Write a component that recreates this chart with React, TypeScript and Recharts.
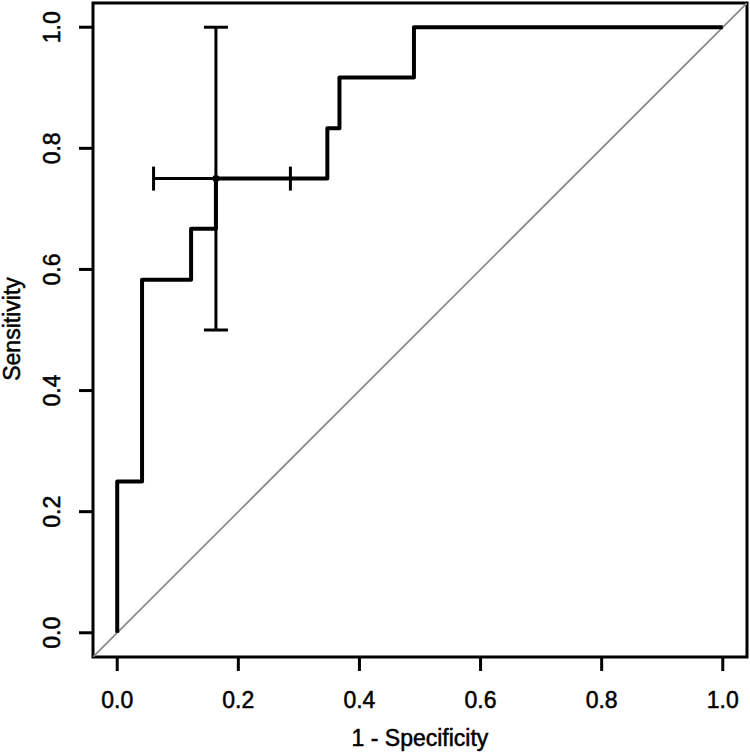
import { ComposedChart, Line, Scatter, ErrorBar, XAxis, YAxis, ReferenceArea } from "recharts"

// ROC curve steps (1 - specificity, sensitivity)
const rocFpr = [0, 0, 0.041, 0.122, 0.163, 0.347, 0.367, 0.49, 1]
const rocTpr = [0, 0.25, 0.583, 0.667, 0.75, 0.833, 0.917, 1, 1]

// confidence interval cross at the chosen threshold
const ciCenter = [0.163, 0.75]
const ciFpr = [0.06, 0.286]
const ciTpr = [0.5, 1.0]

const axisTicks = [0, 0.2, 0.4, 0.6, 0.8, 1]
const axisLimits = [-0.04, 1.04]

const rocData = rocFpr.map((x, i) => ({ x, y: rocTpr[i] }))
const diagData = axisLimits.map((v) => ({ x: v, y: v }))
const ciData = [
  {
    x: ciCenter[0],
    y: ciCenter[1],
    ex: [ciCenter[0] - ciFpr[0], ciFpr[1] - ciCenter[0]],
    ey: [ciCenter[1] - ciTpr[0], ciTpr[1] - ciCenter[1]],
  },
]

const font = "'Liberation Sans', Arial, sans-serif"
// slightly heavier text, the original looks a bit thicker than plain Arial
const textStyle = { fontFamily: font, fontSize: 23, fill: "#000", stroke: "#000", strokeWidth: 0.5 }

const XTick = ({ x, payload }: any) => (
  <text x={x} y={700} textAnchor="middle" dominantBaseline="central" {...textStyle}>
    {Number(payload.value).toFixed(1)}
  </text>
)

const YTick = ({ y, payload }: any) => (
  <text x={52} y={y} transform={`rotate(-90 52 ${y})`} textAnchor="middle" dominantBaseline="central" {...textStyle}>
    {Number(payload.value).toFixed(1)}
  </text>
)

export default function App() {
  return (
    <div style={{ position: "absolute", left: 0, top: 0, width: 750, height: 755, background: "#fff" }}>
      <ComposedChart width={750} height={755} margin={{ top: 3, right: 3, bottom: 0, left: 0 }}>
        <XAxis
          type="number"
          dataKey="x"
          domain={axisLimits}
          ticks={axisTicks}
          allowDataOverflow
          height={98}
          axisLine={false}
          tickSize={14}
          tickLine={{ stroke: "#000", strokeWidth: 3 }}
          tick={<XTick />}
          label={{
            content: () => (
              <text x={420} y={738} textAnchor="middle" dominantBaseline="central" {...textStyle}>
                1 - Specificity
              </text>
            ),
          }}
        />
        <YAxis
          type="number"
          dataKey="y"
          domain={axisLimits}
          ticks={axisTicks}
          allowDataOverflow
          width={93}
          axisLine={false}
          tickSize={14}
          tickLine={{ stroke: "#000", strokeWidth: 3 }}
          tick={<YTick />}
          label={{
            content: () => (
              <text x={12} y={329} transform="rotate(-90 12 329)" textAnchor="middle" dominantBaseline="central" {...textStyle}>
                Sensitivity
              </text>
            ),
          }}
        />
        <Line
          data={diagData}
          dataKey="y"
          type="linear"
          stroke="#858585"
          strokeWidth={1.6}
          dot={false}
          activeDot={false}
          isAnimationActive={false}
        />
        <Line
          data={rocData}
          dataKey="y"
          type="stepAfter"
          stroke="#000"
          strokeWidth={4}
          strokeLinejoin="round"
          dot={false}
          activeDot={false}
          isAnimationActive={false}
        />
        <Scatter
          data={ciData}
          dataKey="y"
          fill="#000"
          isAnimationActive={false}
          shape={(p: any) => <circle cx={p.cx} cy={p.cy} r={3.5} fill="#000" />}
        >
          <ErrorBar dataKey="ex" direction="x" width={12} stroke="#000" strokeWidth={3} isAnimationActive={false} />
          <ErrorBar dataKey="ey" direction="y" width={12} stroke="#000" strokeWidth={3} isAnimationActive={false} />
        </Scatter>
        <ReferenceArea
          x1={axisLimits[0]}
          x2={axisLimits[1]}
          y1={axisLimits[0]}
          y2={axisLimits[1]}
          fill="none"
          fillOpacity={0}
          stroke="#000"
          strokeWidth={3}
          ifOverflow="visible"
        />
      </ComposedChart>
    </div>
  )
}
